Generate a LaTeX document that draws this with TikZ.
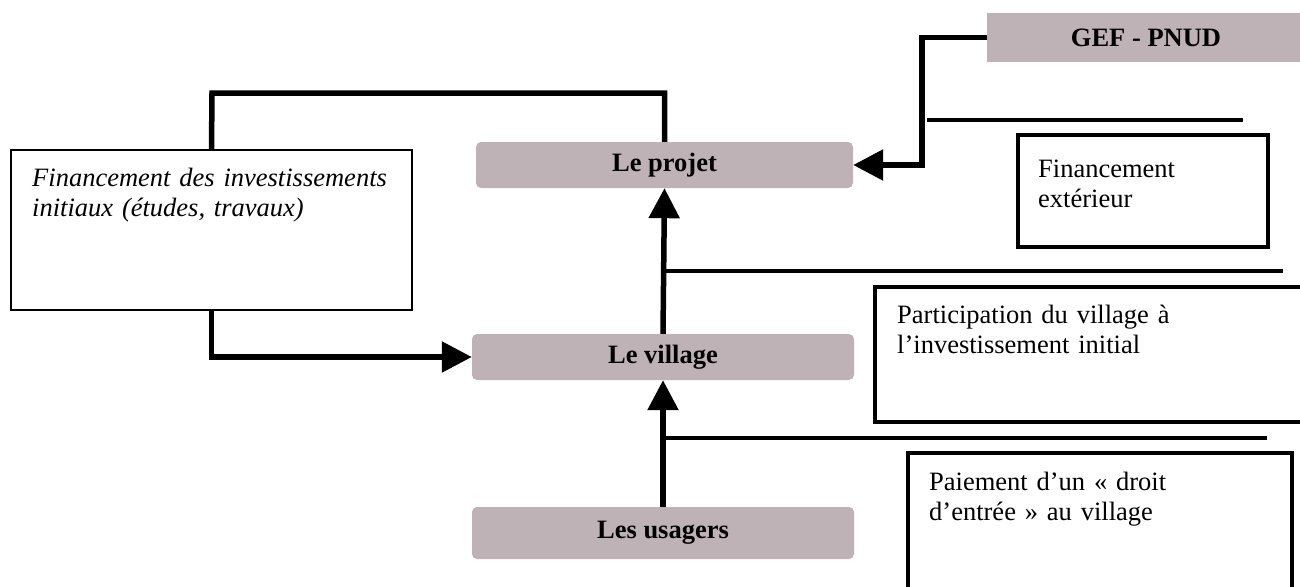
\documentclass[tikz,border=0pt]{standalone}
\usepackage{fontspec}
\setmainfont{Liberation Serif}
\usetikzlibrary{arrows.meta}
\definecolor{boxgrey}{RGB}{190,178,183}
\begin{document}
\begin{tikzpicture}[x=1pt,y=-1pt,
  every node/.style={font=\fontsize{26.5}{30.6}\selectfont, inner sep=0pt},
  actor/.style={fill=boxgrey, rounded corners=5pt, font=\fontsize{26.5}{30.6}\selectfont\bfseries},
  note/.style={draw, line width=#1},
  note/.default=3.5pt,
  notetext/.style={anchor=base west, text width=360pt, align=left},
  conn/.style={line width=5.5pt},
  arr/.style={line width=5.5pt, -{Triangle[length=30pt,width=30pt]}},
  rule/.style={line width=3.5pt}]
\useasboundingbox (0,0) rectangle (1300,586);

% main actors
\node[actor, minimum width=377pt, minimum height=46pt] (projet) at (664.5,165) {Le projet};
\node[actor, minimum width=382pt, minimum height=46pt] (village) at (663,357) {Le village};
\node[actor, minimum width=382pt, minimum height=52pt] (usagers) at (663,533) {Les usagers};
\node[fill=boxgrey, minimum width=318pt, minimum height=49pt, font=\fontsize{26.5}{30.6}\selectfont\bfseries] (gef) at (1146,37.5) {GEF - PNUD};

% explanatory boxes
\node[note=2pt, minimum width=401pt, minimum height=160pt] (leftbox) at (211.5,230) {};
\node[notetext, font=\fontsize{26.5}{30.6}\selectfont\itshape] (lefttext) at (32,186) {Financement des investissements initiaux (études, travaux)};

\node[note, minimum width=250pt, minimum height=112pt] (extbox) at (1143,191) {};
\node[notetext, text width=220pt] (exttext) at (1038,177) {Financement\\extérieur};

\node[note, minimum width=435pt, minimum height=135pt] (partbox) at (1092.5,354.5) {};
\node[notetext] (parttext) at (897,323) {Participation du village à\\l’investissement initial};

\node[note, minimum width=384pt, minimum height=139pt] (paybox) at (1100,522.5) {};
\node[notetext] (paytext) at (929,490) {Paiement d’un « droit\\d’entrée » au village};

% separating rules
\coordinate (r1a) at (927,120);  \coordinate (r1b) at (1243,120);
\coordinate (r2a) at (664,271);  \coordinate (r2b) at (1283,271);
\coordinate (r3a) at (664,438);  \coordinate (r3b) at (1267,438);
\draw[rule] (r1a) -- (r1b);
\draw[rule] (r2a) -- (r2b);
\draw[rule] (r3a) -- (r3b);

% flows
\coordinate (topbend) at (212,93);
\coordinate (gefbend) at (922,37.5);
\draw[conn] (projet.north) |- (topbend) -- (leftbox.north);
\draw[arr] (leftbox.south) |- (village.west);
\draw[arr] (gef.west) -- (gefbend) |- (projet.east);
\draw[arr] (village.north) -- (projet.south);
\draw[arr] (usagers.north) -- (village.south);
\end{tikzpicture}
\end{document}
